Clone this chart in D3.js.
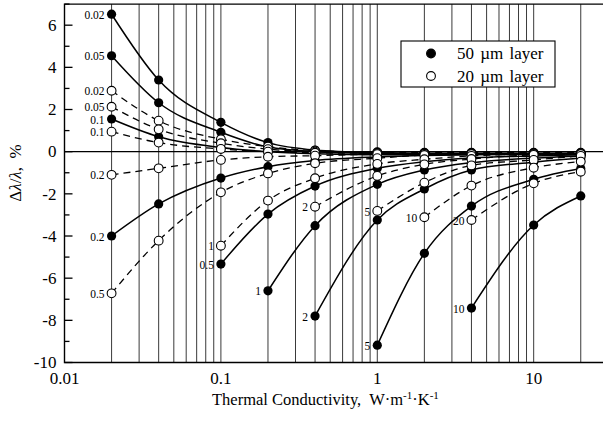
<!DOCTYPE html>
<html>
<head>
<meta charset="utf-8">
<script src="https://cdn.jsdelivr.net/npm/d3@7"></script>
<style>
  html, body { margin: 0; padding: 0; background: #fff; overflow: hidden; }
  text { font-family: "Liberation Serif", "DejaVu Serif", serif; fill: #000; }
</style>
</head>
<body>
<div id="chart"></div>
<script>
// Thermal conductivity positions of the measurements (W/m/K)
const conductivity = [0.02, 0.04, 0.1, 0.2, 0.4, 1, 2, 4, 10, 20];

// 50 um layer (filled circles, solid lines): curve labels and deviation, %
const labels50 = ['0.02', '0.05', '0.1', '0.2', '0.5', '1', '2', '5', '10'];
const dev50 = [
  [6.52, 3.40, 1.39, 0.43, 0.08, -0.05, -0.08, -0.08, -0.08, -0.08],
  [4.55, 2.32, 0.92, 0.22, 0.00, -0.08, -0.10, -0.10, -0.10, -0.10],
  [1.55, 0.71, 0.20, 0.00, -0.10, -0.15, -0.15, -0.12, -0.10, -0.10],
  [-4.00, -2.48, -1.25, -0.71, -0.42, -0.25, -0.18, -0.15, -0.12, -0.10],
  [null, null, -5.33, -2.96, -1.63, -0.79, -0.48, -0.30, -0.20, -0.15],
  [null, null, null, -6.60, -3.51, -1.55, -0.87, -0.52, -0.30, -0.20],
  [null, null, null, null, -7.80, -3.24, -1.77, -0.87, -0.50, -0.30],
  [null, null, null, null, null, -9.18, -4.82, -2.58, -1.31, -0.80],
  [null, null, null, null, null, null, null, -7.42, -3.48, -2.10]
];

// 20 um layer (open circles, dashed lines)
const labels20 = ['0.02', '0.05', '0.1', '0.2', '0.5', '1', '2', '5', '10', '20'];
const dev20 = [
  [2.89, 1.47, 0.59, 0.24, 0.05, -0.03, -0.05, -0.05, -0.05, -0.05],
  [2.13, 1.06, 0.40, 0.12, 0.00, -0.05, -0.08, -0.08, -0.08, -0.08],
  [0.95, 0.43, 0.13, 0.00, -0.05, -0.08, -0.10, -0.10, -0.10, -0.10],
  [-1.10, -0.79, -0.39, -0.24, -0.19, -0.12, -0.10, -0.10, -0.10, -0.10],
  [-6.72, -4.22, -1.93, -1.03, -0.55, -0.31, -0.16, -0.12, -0.11, -0.10],
  [null, null, -4.46, -2.32, -1.26, -0.58, -0.36, -0.20, -0.12, -0.11],
  [null, null, null, null, -2.61, -1.15, -0.60, -0.35, -0.15, -0.11],
  [null, null, null, null, null, -2.81, -1.47, -0.65, -0.39, -0.20],
  [null, null, null, null, null, null, -3.11, -1.61, -0.76, -0.47],
  [null, null, null, null, null, null, null, -3.24, -1.50, -0.95]
];

const xTickLabels = [0.01, 0.1, 1, 10];
const yMajorTicks = [-10, -8, -6, -4, -2, 0, 2, 4, 6];
const yMinorTicks = [-9, -7, -5, -3, -1, 1, 3, 5, 7];
const legendItems = ['50 µm layer', '20 µm layer'];

const width = 603, height = 422;
const svg = d3.select('#chart').append('svg')
  .attr('width', width).attr('height', height);

const x = d3.scaleLog().domain([0.01, 30]).range([64.5, 608.3]);
const y = d3.scaleLinear().domain([-10, 7]).range([362.5, 4.1]);

// vertical grid at every log step
const gridVals = [];
[0.01, 0.1, 1, 10].forEach(d => { for (let k = 1; k <= 9; k++) gridVals.push(d * k); });
svg.append('g').selectAll('line')
  .data(gridVals.filter(v => v > 0.01 && v < 30))
  .enter().append('line')
  .attr('x1', d => x(d)).attr('x2', d => x(d))
  .attr('y1', y(7)).attr('y2', y(-10))
  .attr('stroke', '#3a3a3a').attr('stroke-width', 1);

// zero line
svg.append('line')
  .attr('x1', x(0.01)).attr('x2', x(30))
  .attr('y1', y(0)).attr('y2', y(0))
  .attr('stroke', '#000').attr('stroke-width', 1.3);

// frame (left, bottom, top)
svg.append('path')
  .attr('d', `M${x(30)},${y(7)}H${x(0.01)}V${y(-10)}H${x(30)}`)
  .attr('fill', 'none').attr('stroke', '#000').attr('stroke-width', 1.4);

// y ticks inward
svg.append('g').selectAll('line.maj').data(yMajorTicks).enter().append('line')
  .attr('x1', x(0.01)).attr('x2', x(0.01) + 8)
  .attr('y1', d => y(d)).attr('y2', d => y(d))
  .attr('stroke', '#000').attr('stroke-width', 1.3);
svg.append('g').selectAll('line.min').data(yMinorTicks).enter().append('line')
  .attr('x1', x(0.01)).attr('x2', x(0.01) + 5)
  .attr('y1', d => y(d)).attr('y2', d => y(d))
  .attr('stroke', '#000').attr('stroke-width', 1.3);

svg.append('g').selectAll('text').data(yMajorTicks).enter().append('text')
  .attr('x', x(0.01) - 8).attr('y', d => y(d)).attr('dy', '0.34em')
  .attr('text-anchor', 'end').attr('font-size', 17)
  .text(d => d);

svg.append('g').selectAll('text').data(xTickLabels).enter().append('text')
  .attr('x', d => x(d)).attr('y', 383.5)
  .attr('text-anchor', 'middle').attr('font-size', 17)
  .text(d => d);

// axis titles
const xt = svg.append('text').attr('x', 212).attr('y', 405).attr('font-size', 16.5)
  .attr('xml:space', 'preserve');
xt.append('tspan').text('Thermal Conductivity,  W·m');
xt.append('tspan').attr('dy', -6).attr('font-size', 11).text('-1');
xt.append('tspan').attr('dy', 6).text('·K');
xt.append('tspan').attr('dy', -6).attr('font-size', 11).text('-1');

const yt = svg.append('text')
  .attr('transform', 'translate(21,173) rotate(-90)')
  .attr('text-anchor', 'middle').attr('font-size', 17)
  .attr('xml:space', 'preserve');
yt.append('tspan').text('Δ');
yt.append('tspan').attr('font-style', 'italic').text('λ');
yt.append('tspan').text('/');
yt.append('tspan').attr('font-style', 'italic').text('λ');
yt.append('tspan').text(',  %');

// curves
const toPoints = vals => conductivity.map((c, i) => [c, vals[i]]).filter(p => p[1] !== null);
const line = d3.line().x(p => x(p[0])).y(p => y(p[1])).curve(d3.curveMonotoneX);

svg.append('g').selectAll('path').data(dev20).enter().append('path')
  .attr('d', d => line(toPoints(d)))
  .attr('fill', 'none').attr('stroke', '#000').attr('stroke-width', 1.3)
  .attr('stroke-dasharray', '7,5');
svg.append('g').selectAll('path').data(dev50).enter().append('path')
  .attr('d', d => line(toPoints(d)))
  .attr('fill', 'none').attr('stroke', '#000').attr('stroke-width', 1.5);

// markers: filled first, open on top
svg.append('g').selectAll('circle').data(dev50.flatMap(toPoints)).enter().append('circle')
  .attr('cx', p => x(p[0])).attr('cy', p => y(p[1])).attr('r', 4.6)
  .attr('fill', '#000');
svg.append('g').selectAll('circle').data(dev20.flatMap(toPoints)).enter().append('circle')
  .attr('cx', p => x(p[0])).attr('cy', p => y(p[1])).attr('r', 4.4)
  .attr('fill', '#fff').attr('stroke', '#000').attr('stroke-width', 1.1);

// curve labels at the first point of each curve
function curveLabels(dev, labels) {
  svg.append('g').selectAll('text').data(dev).enter().append('text')
    .attr('x', (d, i) => x(toPoints(d)[0][0]) - 7)
    .attr('y', (d, i) => y(toPoints(d)[0][1]))
    .attr('dy', '0.4em')
    .attr('text-anchor', 'end').attr('font-size', 11.5)
    .text((d, i) => labels[i]);
}
curveLabels(dev50, labels50);
curveLabels(dev20, labels20);

// legend
const lg = svg.append('g').attr('transform', 'translate(401,41)');
lg.append('rect').attr('width', 154).attr('height', 46)
  .attr('fill', '#fff').attr('stroke', '#000').attr('stroke-width', 1.1);
lg.selectAll('circle').data(legendItems).enter().append('circle')
  .attr('cx', 30).attr('cy', (d, i) => 12.5 + i * 22.5).attr('r', 4.4)
  .attr('fill', (d, i) => i === 0 ? '#000' : '#fff')
  .attr('stroke', '#000').attr('stroke-width', 1.1);
lg.selectAll('text').data(legendItems).enter().append('text')
  .attr('x', 56).attr('y', (d, i) => 12.5 + i * 22.5).attr('dy', '0.34em')
  .attr('font-size', 17).attr('word-spacing', 2)
  .text(d => d);
</script>
</body>
</html>
